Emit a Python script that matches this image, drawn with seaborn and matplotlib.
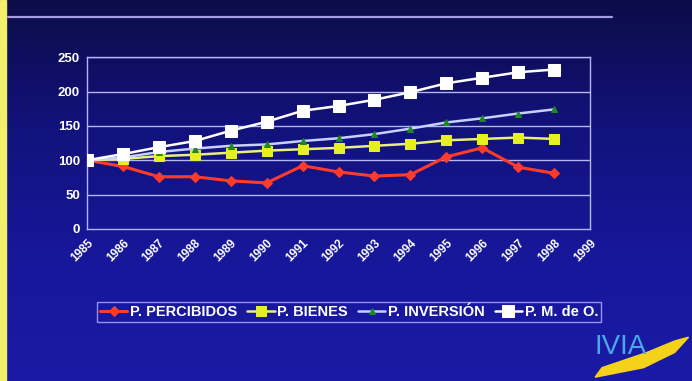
import numpy as np
import pandas as pd
import matplotlib
matplotlib.use("Agg")
import matplotlib.pyplot as plt
from matplotlib.patches import Rectangle, Polygon
from matplotlib.colors import LinearSegmentedColormap
import seaborn as sns

years = list(range(1985, 1999))
tick_years = list(range(1985, 2000))
percibidos = [100, 91, 76, 76, 70, 67, 92, 83, 77, 79, 105, 118, 90, 81]
bienes = [100, 102, 106, 108, 111, 114, 116, 118, 121, 124, 129, 131, 133, 131]
inversion = [100, 104, 112, 117, 121, 123, 128, 132, 138, 146, 155, 161, 168, 174]
pmo = [100, 109, 119, 128, 143, 156, 172, 179, 188, 199, 212, 220, 228, 232]
series_names = ["P. PERCIBIDOS", "P. BIENES", "P. INVERSIÓN", "P. M. de O."]
y_ticks = [0, 50, 100, 150, 200, 250]

df = pd.DataFrame({
    "year": years * 4,
    "value": percibidos + bienes + inversion + pmo,
    "serie": sum([[n] * len(years) for n in series_names], []),
})

sns.set_theme(style="white")
plt.rcParams["font.family"] = ["Liberation Sans", "DejaVu Sans"]

fig = plt.figure(figsize=(6.92, 3.81), dpi=100)

# background gradient
bg = fig.add_axes([0, 0, 1, 1], zorder=-10)
grad = np.linspace(0, 1, 256).reshape(-1, 1)
cm = LinearSegmentedColormap.from_list("bgc", ["#0c0c48", "#12127c", "#17179a", "#1a1aa6"])
bg.imshow(grad, aspect="auto", cmap=cm, extent=[0, 1, 0, 1], origin="upper")
bg.set_xlim(0, 1); bg.set_ylim(0, 1)
bg.axis("off")
bg.add_patch(Rectangle((0, 0), 0.009, 1, color="#f2ef6a", transform=bg.transAxes))
bg.plot([0.012, 0.885], [0.955, 0.955], color="#a59be0", lw=1.6)
# IVIA logo
bg.add_patch(Polygon([[0.86, 0.01], [0.93, 0.035], [0.975, 0.075], [0.995, 0.115],
                      [0.975, 0.105], [0.935, 0.075], [0.87, 0.035]],
                     closed=True, color="#f4d21a"))
bg.text(0.897, 0.09, "IVIA", color="#4aa8e8", fontsize=20, ha="center",
        va="center", family=["Liberation Sans", "DejaVu Sans"])

ax = fig.add_axes([0.1257, 0.399, 0.727, 0.451])
ax.set_facecolor((0, 0, 0, 0))

styles = {
    "P. PERCIBIDOS": dict(color="#ff3b2a", marker="D", mfc="#ff3b2a", mec="#ff3b2a", ms=5),
    "P. BIENES": dict(color="#e8f07a", marker="s", mfc="#e6f020", mec="#e6f020", ms=7),
    "P. INVERSIÓN": dict(color="#c8d0ff", marker="^", mfc="#1e8a1e", mec="#1e8a1e", ms=5),
    "P. M. de O.": dict(color="#ffffff", marker="s", mfc="#ffffff", mec="#ffffff", ms=8),
}
for name in series_names:
    st = styles[name]
    sub = df[df["serie"] == name]
    sns.lineplot(data=sub, x="year", y="value", ax=ax, color=st["color"],
                 marker=st["marker"], markerfacecolor=st["mfc"],
                 markeredgecolor=st["mec"], markersize=st["ms"],
                 linewidth=2.2 if name == "P. PERCIBIDOS" else 1.8,
                 label=name, zorder=3)

ax.set_xlim(1985, 1999)
ax.set_ylim(0, 250)
ax.set_yticks(y_ticks)
ax.set_yticklabels([str(v) for v in y_ticks], color="white", fontsize=9.5, fontweight="bold")
ax.set_xticks(tick_years)
ax.set_xticklabels([str(y) for y in tick_years], rotation=45, ha="right",
                   rotation_mode="anchor", color="white", fontsize=8.5, fontweight="bold")
ax.tick_params(axis="x", length=3, color="#b0b0ff", direction="out", pad=3)
ax.tick_params(axis="y", length=0, pad=5)
ax.set_xlabel("")
ax.set_ylabel("")
ax.grid(False)
for v in y_ticks[1:]:
    ax.axhline(v, color="#b4b4ff", lw=1.0, zorder=1)
for s in ax.spines.values():
    s.set_color("#b4b4ff")
    s.set_linewidth(1.0)

leg = ax.legend(loc="upper left", bbox_to_anchor=(0.005, -0.385), ncol=4,
                frameon=True, fancybox=False, handlelength=1.9, handletextpad=0.15,
                columnspacing=0.7, borderpad=0.2,
                prop={"weight": "bold", "size": 10.5})
leg.get_frame().set_facecolor("none")
leg.get_frame().set_edgecolor("#b4b4ff")
leg.get_frame().set_linewidth(1.0)
for t in leg.get_texts():
    t.set_color("white")

fig.savefig("out.png", dpi=100)
